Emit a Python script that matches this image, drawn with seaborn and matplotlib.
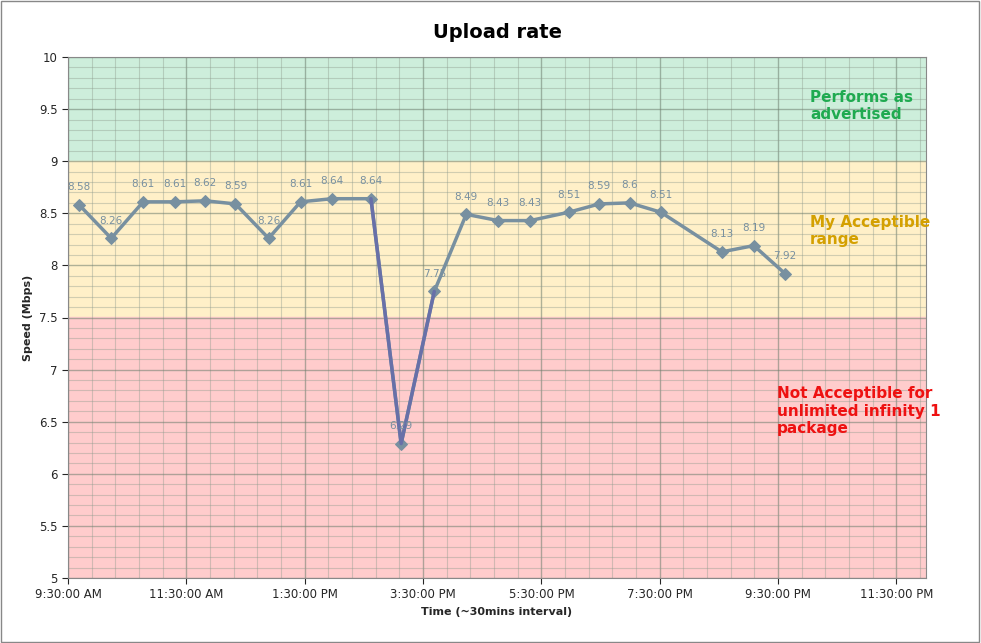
import matplotlib
matplotlib.use("Agg")
import matplotlib.pyplot as plt
import seaborn as sns
import pandas as pd
import numpy as np
from matplotlib.ticker import FixedLocator

hours = [9.69, 10.23, 10.77, 11.31, 11.82, 12.33, 12.89, 13.43, 13.96, 14.62, 15.13,
         15.69, 16.23, 16.77, 17.31, 17.96, 18.48, 18.99, 19.52, 20.55, 21.09, 21.62]
speed = [8.58, 8.26, 8.61, 8.61, 8.62, 8.59, 8.26, 8.61, 8.64, 8.64, 6.29, 7.75,
         8.49, 8.43, 8.43, 8.51, 8.59, 8.6, 8.51, 8.13, 8.19, 7.92]
tick_hours = [9.5, 11.5, 13.5, 15.5, 17.5, 19.5, 21.5, 23.5]
tick_labels = ["9:30:00 AM", "11:30:00 AM", "1:30:00 PM", "3:30:00 PM",
               "5:30:00 PM", "7:30:00 PM", "9:30:00 PM", "11:30:00 PM"]

df = pd.DataFrame({"h": hours, "s": speed})

sns.set_style("white")
fig = plt.figure(figsize=(9.81, 6.43), dpi=100)
ax = fig.add_axes([68/981, 65/643, 858/981, 521/643])
ax.set_xlim(9.5, 24.0)
ax.set_ylim(5, 10)
ax.axhspan(9, 10, color="#cdeedb", zorder=0)
ax.axhspan(7.5, 9, color="#fff0c8", zorder=0)
ax.axhspan(5, 7.5, color="#ffcccc", zorder=0)

yt = np.arange(5, 10.01, 0.5)
ax.set_xticks(tick_hours)
ax.set_xticklabels(tick_labels, fontsize=8.5)
ax.set_yticks(yt)
ax.set_yticklabels([f"{v:g}" for v in yt], fontsize=8.5)
ax.yaxis.set_minor_locator(FixedLocator(np.arange(5, 10.01, 0.1)))
ax.xaxis.set_minor_locator(FixedLocator(np.arange(9.5, 24.01, 0.4)))
ax.grid(which="minor", color="#8c9a8c", lw=0.8, alpha=0.4)
ax.grid(which="major", color="#6e7e6e", lw=1.0, alpha=0.55)
ax.set_axisbelow(True)
ax.tick_params(which="major", length=4, direction="out", left=True, bottom=True)

sns.lineplot(data=df, x="h", y="s", ax=ax, color="#7890a0", lw=2.5,
             marker="D", markersize=6, markeredgecolor="#7890a0")
ax.plot(df["h"][9:12], df["s"][9:12], color="#6870a8", lw=2.5, zorder=3)
for h, s in zip(hours, speed):
    ax.text(h, s + 0.12, f"{s:g}", ha="center", va="bottom", fontsize=7.5, color="#7890a0")

ax.text(22.04, 9.53, "Performs as\nadvertised", color="#1faa50", fontsize=11, fontweight="bold", ha="left", va="center")
ax.text(22.04, 8.33, "My Acceptible\nrange", color="#d4a000", fontsize=11, fontweight="bold", ha="left", va="center")
ax.text(21.48, 6.6, "Not Acceptible for\nunlimited infinity 1\npackage", color="#ee1111", fontsize=11, fontweight="bold", ha="left", va="center")

ax.set_title("Upload rate", fontsize=14, fontweight="bold", pad=14, color="black")
ax.set_xlabel("Time (~30mins interval)", fontsize=8, fontweight="bold")
ax.set_ylabel("Speed (Mbps)", fontsize=8, fontweight="bold")
for sp in ax.spines.values():
    sp.set_color("#888888")
fig.patches.append(plt.Rectangle((0.001, 0.001), 0.997, 0.997, transform=fig.transFigure, fill=False, edgecolor="#888888", lw=1))
fig.savefig("out.png", dpi=100)
